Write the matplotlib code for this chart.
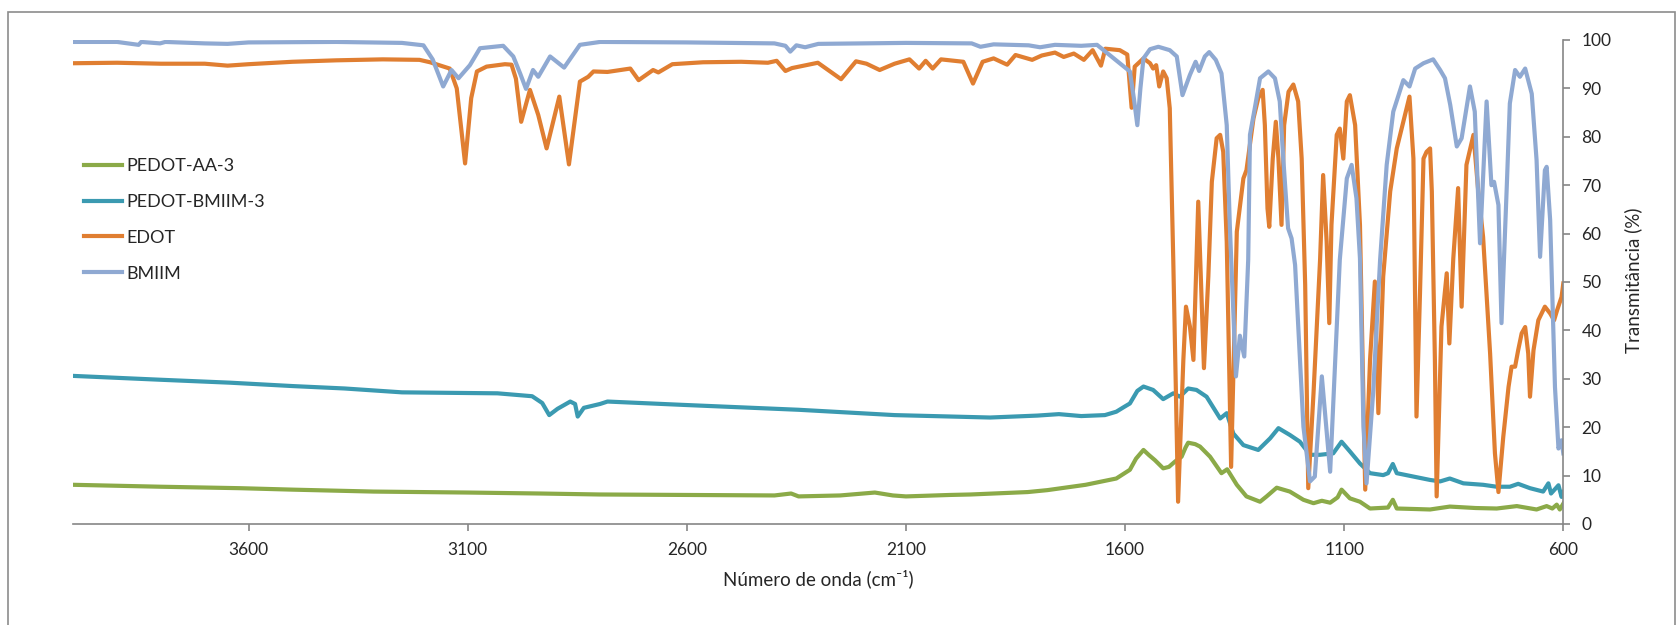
import matplotlib
matplotlib.use("Agg")
import matplotlib.pyplot as plt
from matplotlib.patches import Rectangle

plt.rcParams['font.family'] = ['Lato', 'DejaVu Sans']

# FTIR spectra: wavenumber (cm-1) and transmittance (%)
wn_aa = [4000, 3900, 3800, 3620, 3500, 3315, 3100, 2935, 2800, 2600, 2400, 2362, 2345, 2250,
         2171, 2130, 2100, 2000, 1952, 1822, 1777, 1690, 1620, 1589, 1575, 1558, 1545, 1532,
         1513, 1500, 1486, 1471, 1462, 1456, 1440, 1429, 1406, 1380, 1367, 1345, 1323, 1292,
         1277, 1254, 1224, 1193, 1170, 1151, 1132, 1115, 1106, 1087, 1064, 1041, 1000, 989,
         980, 940, 904, 859, 800, 752, 706, 661, 638, 625, 615, 608, 600]
t_aa = [8.1, 7.9, 7.7, 7.4, 7.1, 6.7, 6.5, 6.3, 6.1, 6.0, 5.9, 6.3, 5.7, 5.9,
        6.5, 5.9, 5.7, 6.0, 6.1, 6.6, 7.0, 8.1, 9.4, 11.2, 13.5, 15.3, 14.2, 13.2,
        11.5, 11.8, 12.9, 13.9, 15.8, 16.8, 16.5, 16.0, 13.9, 10.5, 11.3, 8.1, 5.7, 4.6,
        5.7, 7.5, 6.7, 5.0, 4.3, 4.8, 4.4, 5.5, 7.1, 5.3, 4.6, 3.2, 3.4, 5.0,
        3.2, 3.1, 3.0, 3.6, 3.3, 3.2, 3.7, 3.0, 3.7, 3.2, 4.0, 3.0, 4.2]

wn_bm3 = [4000, 3900, 3800, 3643, 3500, 3381, 3250, 3032, 2953, 2930, 2914, 2895, 2866, 2855,
          2849, 2835, 2798, 2781, 2606, 2345, 2126, 1908, 1800, 1751, 1700, 1646, 1620, 1602,
          1589, 1572, 1558, 1536, 1513, 1490, 1475, 1456, 1437, 1414, 1383, 1368, 1353, 1330,
          1296, 1269, 1250, 1224, 1201, 1178, 1155, 1125, 1106, 1087, 1064, 1041, 1011, 1000,
          989, 980, 942, 904, 881, 859, 828, 783, 752, 722, 703, 676, 646, 634, 628, 611,
          604, 600]
t_bm3 = [30.6, 30.2, 29.8, 29.2, 28.5, 28.0, 27.2, 27.0, 26.4, 25.0, 22.5, 23.8, 25.3, 24.8,
         22.2, 24.0, 24.8, 25.3, 24.6, 23.6, 22.5, 22.0, 22.4, 22.7, 22.3, 22.5, 23.2, 24.2,
         24.9, 27.5, 28.4, 27.7, 25.8, 27.0, 26.3, 28.0, 27.7, 26.3, 21.8, 22.9, 18.7, 16.3,
         15.3, 17.7, 19.8, 18.4, 17.0, 14.3, 14.3, 14.6, 17.0, 15.0, 12.5, 10.5, 10.1, 10.5,
         12.4, 10.5, 9.8, 9.1, 8.8, 9.4, 8.4, 8.1, 7.7, 7.7, 8.3, 7.4, 6.7, 8.4, 6.3, 8.0,
         5.6, 6.6]

wn_edot = [4000, 3900, 3800, 3700, 3648, 3600, 3500, 3400, 3294, 3210, 3186, 3141, 3125, 3106,
           3092, 3079, 3057, 3015, 3000, 2990, 2978, 2958, 2939, 2920, 2891, 2869, 2844, 2825,
           2813, 2781, 2729, 2710, 2677, 2665, 2633, 2563, 2476, 2415, 2395, 2375, 2360, 2301,
           2248, 2214, 2190, 2160, 2126, 2092, 2070, 2055, 2039, 2020, 1969, 1947, 1925, 1900,
           1869, 1850, 1812, 1790, 1760, 1740, 1717, 1694, 1674, 1655, 1645, 1612, 1595, 1585,
           1578, 1558, 1543, 1536, 1529, 1522, 1513, 1505, 1498, 1490, 1479, 1467, 1461, 1452,
           1444, 1433, 1420, 1410, 1402, 1391, 1383, 1376, 1368, 1358, 1345, 1330, 1323, 1307,
           1296, 1286, 1281, 1275, 1271, 1263, 1256, 1250, 1243, 1237, 1227, 1216, 1205, 1197,
           1189, 1182, 1170, 1155, 1148, 1140, 1134, 1129, 1117, 1110, 1102, 1094, 1087, 1075,
           1064, 1052, 1041, 1030, 1022, 1011, 995, 980, 965, 951, 942, 935, 927, 919,
           912, 904, 900, 893, 889, 878, 866, 860, 851, 840, 832, 821, 805, 794,
           783, 767, 756, 748, 737, 725, 718, 710, 703, 695, 687, 680, 676, 668,
           657, 642, 630, 621, 614, 604, 600]
t_edot = [95.2, 95.3, 95.1, 95.1, 94.7, 95.0, 95.5, 95.8, 96.0, 95.9, 95.4, 94.1, 90.0, 74.5,
          88.0, 93.5, 94.5, 95.0, 94.9, 92.0, 83.1, 89.7, 84.5, 77.6, 88.3, 74.3, 91.4, 92.4,
          93.5, 93.4, 94.1, 91.7, 93.8, 93.3, 95.0, 95.4, 95.5, 95.3, 95.7, 93.6, 94.2, 95.3,
          91.9, 95.6, 95.1, 93.8, 95.1, 96.0, 94.1, 95.7, 94.1, 96.0, 95.5, 91.0, 95.5, 96.2,
          94.9, 96.9, 95.9, 96.8, 97.4, 96.5, 97.2, 95.9, 97.9, 94.7, 98.2, 97.9, 97.0, 86.0,
          94.5, 96.2, 95.2, 94.1, 94.8, 90.4, 93.5, 92.1, 85.9, 54.6, 4.6, 33.9, 44.9, 40.8,
          33.9, 66.6, 32.2, 51.1, 70.7, 79.7, 80.4, 76.9, 58.3, 11.8, 60.4, 71.4, 73.1, 83.8,
          88.0, 89.7, 82.4, 65.2, 61.4, 75.5, 83.1, 75.5, 61.8, 82.4, 89.3, 90.8, 87.3, 75.5,
          49.4, 7.4, 27.0, 54.6, 72.1, 58.3, 41.5, 61.8, 80.4, 81.7, 75.5, 87.3, 88.6, 82.4,
          61.8, 7.1, 33.9, 50.1, 22.9, 51.1, 68.7, 77.6, 83.1, 88.3, 75.5, 22.2, 47.7, 75.5,
          76.9, 77.6, 68.7, 33.9, 5.7, 40.8, 51.8, 37.3, 54.9, 69.4, 44.9, 74.2, 80.4, 68.7,
          59.3, 35.2, 14.6, 6.6, 18.0, 28.3, 32.5, 32.5, 35.9, 39.4, 40.7, 35.2, 26.3, 35.9,
          42.1, 44.9, 43.5, 42.1, 44.2, 46.9, 49.7]

wn_bmiim = [4000, 3900, 3851, 3845, 3802, 3790, 3700, 3648, 3600, 3400, 3250, 3201, 3180, 3156,
            3137, 3121, 3095, 3072, 3019, 2996, 2980, 2967, 2951, 2939, 2912, 2880, 2844, 2798,
            2600, 2400, 2375, 2364, 2350, 2330, 2300, 2100, 1950, 1930, 1900, 1820, 1794, 1760,
            1700, 1664, 1589, 1580, 1572, 1565, 1558, 1543, 1524, 1498, 1482, 1469, 1452, 1439,
            1431, 1418, 1408, 1393, 1380, 1368, 1361, 1347, 1338, 1328, 1319, 1315, 1304, 1292,
            1273, 1258, 1247, 1239, 1228, 1220, 1212, 1193, 1178, 1167, 1151, 1132, 1110, 1094,
            1083, 1072, 1064, 1056, 1049, 1034, 1018, 1003, 988, 965, 951, 938, 919, 897,
            881, 870, 858, 843, 832, 813, 802, 790, 775, 764, 758, 748, 741, 729,
            722, 710, 699, 687, 672, 661, 653, 642, 638, 630, 619, 611, 604, 600]
t_bmiim = [99.6, 99.6, 99.0, 99.6, 99.3, 99.6, 99.3, 99.2, 99.5, 99.6, 99.4, 98.9, 96.0, 90.4,
           93.8, 92.1, 94.8, 98.3, 98.8, 96.6, 93.0, 89.9, 93.8, 92.4, 96.6, 94.3, 99.0, 99.6,
           99.5, 99.3, 98.8, 97.6, 98.9, 98.5, 99.2, 99.4, 99.3, 98.6, 99.1, 98.9, 98.5, 99.0,
           98.8, 99.0, 93.5, 88.0, 82.4, 90.0, 96.2, 98.1, 98.6, 97.9, 96.6, 88.6, 92.8, 95.5,
           93.6, 96.6, 97.5, 95.9, 93.1, 82.4, 61.8, 30.5, 38.9, 34.6, 54.6, 80.4, 85.9, 92.1,
           93.5, 92.1, 87.3, 75.5, 61.1, 59.0, 53.5, 20.1, 8.8, 9.8, 30.5, 10.8, 54.6, 71.4,
           74.2, 67.3, 54.9, 20.1, 8.4, 27.0, 54.6, 74.2, 85.2, 91.7, 90.4, 94.1, 95.2, 96.0,
           93.8, 92.1, 86.6, 78.0, 79.7, 90.4, 85.2, 58.0, 87.3, 70.0, 70.7, 65.9, 41.5, 69.7,
           86.9, 93.8, 92.4, 94.1, 88.9, 75.2, 55.2, 73.1, 73.8, 62.8, 28.3, 15.6, 17.3, 14.6]

labels = ['PEDOT-AA-3', 'PEDOT-BMIIM-3', 'EDOT', 'BMIIM']
colors = ['#8BAA48', '#3B9AB1', '#E07E31', '#8FA9D2']
x_ticks = [3600, 3100, 2600, 2100, 1600, 1100, 600]
y_ticks = list(range(0, 101, 10))

text_color = '#262626'
axis_color = '#868686'

W, H = 1677, 625
fig = plt.figure(figsize=(W / 100, H / 100), dpi=100)
ax = fig.add_axes([73.3 / W, 1 - 524 / H, (1563.3 - 73.3) / W, (524 - 40) / H])

series = [(wn_aa, t_aa), (wn_bm3, t_bm3), (wn_edot, t_edot), (wn_bmiim, t_bmiim)]
for (wn, t), lab, c in zip(series, labels, colors):
    ax.plot(wn, t, color=c, lw=3.0, label=lab, solid_joinstyle='round')

ax.set_xlim(4000, 600)
ax.set_ylim(0, 100)
ax.set_xticks(x_ticks)
ax.set_yticks(y_ticks)

for side in ['top', 'left']:
    ax.spines[side].set_visible(False)
for side in ['bottom', 'right']:
    ax.spines[side].set_color(axis_color)
    ax.spines[side].set_linewidth(1.2)

ax.yaxis.tick_right()
ax.tick_params(axis='both', direction='out', length=5, width=1.2, color=axis_color,
               labelsize=12.5, labelcolor=text_color, pad=8)

fig.text(818 / W, 1 - 579 / H, 'Número de onda (cm⁻¹)', ha='center', va='center',
         fontsize=13.5, color=text_color)
fig.text(1633 / W, 1 - 280 / H, 'Transmitância (%)', ha='center', va='center',
         rotation=90, fontsize=13.5, color=text_color)

leg = ax.legend(loc='upper left', bbox_to_anchor=(84 / W, 1 - 158 / H),
                bbox_transform=fig.transFigure, frameon=False, fontsize=13,
                handlelength=2.1, handletextpad=0.25, labelspacing=1.1,
                borderpad=0, borderaxespad=0)
for txt in leg.get_texts():
    txt.set_color(text_color)

# outer chart border
fig.patches.append(Rectangle((8 / W, -0.02), (1675 - 8) / W, 1.02 - 12 / H,
                             transform=fig.transFigure, fill=False,
                             edgecolor='#8C8C8C', lw=1.2))

fig.savefig('out.png', dpi=100, facecolor='white')
